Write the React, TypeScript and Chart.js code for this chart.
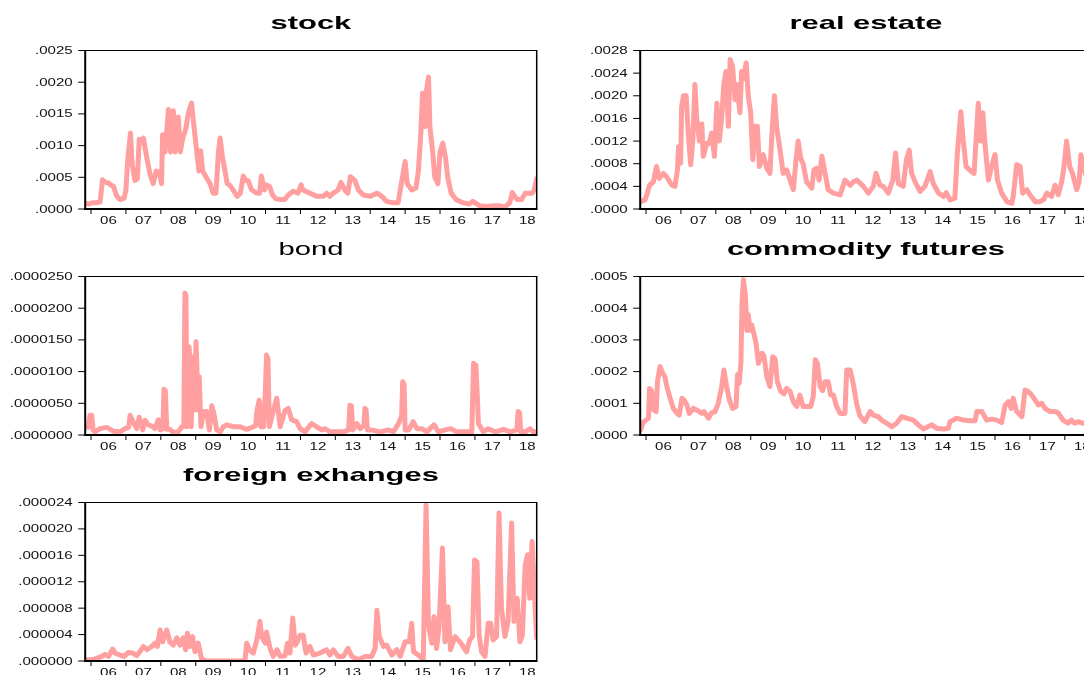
import React, { useEffect, useRef } from "react";
import { Chart, registerables } from "chart.js";

Chart.register(...registerables);

// ---------- shared axis data ----------
const yearTicks = [2006, 2007, 2008, 2009, 2010, 2011, 2012, 2013, 2014, 2015, 2016, 2017, 2018];
const yearLabels = ["06", "07", "08", "09", "10", "11", "12", "13", "14", "15", "16", "17", "18"];
const X_MIN = 2005.833;
const X_MAX = 2018.77;

// ---------- stock ----------
const stockYears = [
  2005.84, 2005.95, 2006.05, 2006.15, 2006.26, 2006.33, 2006.42, 2006.5, 2006.57, 2006.64,
  2006.74, 2006.83, 2006.95, 2007.0, 2007.05, 2007.13, 2007.18, 2007.26, 2007.33, 2007.38,
  2007.45, 2007.5, 2007.6, 2007.69, 2007.78, 2007.87, 2007.96, 2008.02, 2008.05, 2008.12,
  2008.15, 2008.22, 2008.28, 2008.36, 2008.41, 2008.47, 2008.5, 2008.56, 2008.62, 2008.68,
  2008.73, 2008.78, 2008.88, 2008.93, 2008.97, 2009.03, 2009.09, 2009.14, 2009.2, 2009.3,
  2009.41, 2009.5, 2009.58, 2009.65, 2009.7, 2009.77, 2009.84, 2009.9, 2009.97, 2010.07,
  2010.19, 2010.28, 2010.36, 2010.43, 2010.5, 2010.6, 2010.75, 2010.83, 2010.88, 2010.97,
  2011.02, 2011.12, 2011.2, 2011.3, 2011.44, 2011.55, 2011.65, 2011.79, 2011.93, 2012.02,
  2012.07, 2012.27, 2012.46, 2012.66, 2012.75, 2012.84, 2012.94, 2013.08, 2013.16, 2013.27,
  2013.36, 2013.43, 2013.56, 2013.66, 2013.8, 2014.0, 2014.2, 2014.33, 2014.47, 2014.62,
  2014.8, 2014.9, 2015.0, 2015.06, 2015.19, 2015.31, 2015.38, 2015.45, 2015.5, 2015.57,
  2015.62, 2015.67, 2015.71, 2015.79, 2015.85, 2015.94, 2016.0, 2016.08, 2016.16, 2016.22,
  2016.32, 2016.46, 2016.65, 2016.84, 2016.94, 2017.14, 2017.33, 2017.53, 2017.72, 2017.86,
  2018.0, 2018.07, 2018.2, 2018.34, 2018.44, 2018.64, 2018.7, 2018.77,
];
const stockValues = [
  0.00009, 0.00008, 0.0001, 0.0001, 0.00011, 0.00046, 0.00042, 0.00041, 0.00038, 0.00036,
  0.0002, 0.00015, 0.00017, 0.0003, 0.00077, 0.0012, 0.0007, 0.00045, 0.00048, 0.0011,
  0.00105, 0.00112, 0.0008, 0.00055, 0.0004, 0.0006, 0.00058, 0.0004, 0.00117, 0.0009,
  0.0011, 0.00157, 0.0009, 0.00155, 0.0009, 0.0013, 0.00145, 0.0009, 0.0011, 0.0012,
  0.0013, 0.0015, 0.00167, 0.0014, 0.0012, 0.0009, 0.0006, 0.00092, 0.0006, 0.0005,
  0.0004, 0.00025, 0.00025, 0.0009, 0.00112, 0.0008, 0.0006, 0.0004, 0.00038, 0.0003,
  0.0002, 0.00025, 0.00052, 0.00045, 0.00045, 0.0003, 0.00025, 0.00025, 0.00052, 0.0003,
  0.00038, 0.00035, 0.00022, 0.00016, 0.00015, 0.00015, 0.00022, 0.00028, 0.00025, 0.00038,
  0.0003, 0.00025, 0.0002, 0.0002, 0.00025, 0.0002, 0.00025, 0.0003, 0.00042, 0.0003,
  0.00025, 0.00051, 0.00045, 0.0003, 0.00022, 0.0002, 0.00025, 0.0002, 0.00012, 0.0001,
  0.0001, 0.00043, 0.00075, 0.0004, 0.0003, 0.00033, 0.0006, 0.0012, 0.00183, 0.0013,
  0.0019, 0.00208, 0.0013, 0.0009, 0.0005, 0.0004, 0.0009, 0.00104, 0.0008, 0.0005,
  0.00025, 0.00015, 0.0001, 0.00008, 0.00012, 0.00005, 0.00004, 0.00005, 0.00005, 0.00003,
  0.0001, 0.00026, 0.00015, 0.00015, 0.00025, 0.00025, 0.0003, 0.00048,
];
const stockTicks = [0, 0.0005, 0.001, 0.0015, 0.002, 0.0025];
const stockTickLabels = [".0000", ".0005", ".0010", ".0015", ".0020", ".0025"];

// ---------- real estate ----------
const realYears = [
  2005.84, 2005.97, 2006.04, 2006.1, 2006.21, 2006.3, 2006.38, 2006.5, 2006.59, 2006.74,
  2006.83, 2006.9, 2006.93, 2006.99, 2007.02, 2007.07, 2007.15, 2007.21, 2007.28, 2007.34,
  2007.4, 2007.45, 2007.53, 2007.6, 2007.64, 2007.74, 2007.81, 2007.88, 2007.96, 2008.03,
  2008.1, 2008.17, 2008.23, 2008.29, 2008.36, 2008.41, 2008.48, 2008.55, 2008.6, 2008.69,
  2008.74, 2008.79, 2008.87, 2008.93, 2009.0, 2009.06, 2009.12, 2009.19, 2009.25, 2009.36,
  2009.46, 2009.55, 2009.62, 2009.68, 2009.74, 2009.84, 2009.93, 2010.03, 2010.13, 2010.22,
  2010.3, 2010.36, 2010.43, 2010.5, 2010.6, 2010.75, 2010.81, 2010.89, 2010.96, 2011.04,
  2011.13, 2011.22, 2011.37, 2011.56, 2011.7, 2011.85, 2011.94, 2012.04, 2012.23, 2012.37,
  2012.51, 2012.59, 2012.7, 2012.8, 2012.94, 2013.07, 2013.15, 2013.23, 2013.37, 2013.46,
  2013.54, 2013.61, 2013.71, 2013.85, 2013.99, 2014.14, 2014.23, 2014.38, 2014.52, 2014.6,
  2014.71, 2014.85, 2014.92, 2015.02, 2015.09, 2015.17, 2015.33, 2015.4, 2015.48, 2015.52,
  2015.59, 2015.65, 2015.71, 2015.81, 2015.9, 2016.0, 2016.07, 2016.19, 2016.34, 2016.48,
  2016.52, 2016.62, 2016.72, 2016.79, 2016.91, 2017.0, 2017.15, 2017.29, 2017.4, 2017.48,
  2017.62, 2017.72, 2017.81, 2017.91, 2017.97, 2018.05, 2018.14, 2018.22, 2018.34, 2018.41,
  2018.46, 2018.52, 2018.6, 2018.7, 2018.77,
];
const realValues = [
  0.00013, 0.00016, 0.00028, 0.00042, 0.00048, 0.00075, 0.00054, 0.00063, 0.00057, 0.00042,
  0.0004, 0.00069, 0.0011, 0.00081, 0.0018, 0.002, 0.002, 0.00134, 0.00078, 0.0012,
  0.0022, 0.00163, 0.0012, 0.0015, 0.00093, 0.00116, 0.00116, 0.00134, 0.00093, 0.00187,
  0.0012, 0.00163, 0.0022, 0.00243, 0.00146, 0.00264, 0.00252, 0.00193, 0.0022, 0.0017,
  0.00243, 0.0023, 0.00258, 0.002, 0.0017, 0.00087, 0.00146, 0.00146, 0.00075, 0.00096,
  0.00072, 0.00063, 0.00146, 0.002, 0.00146, 0.00104, 0.00063, 0.00069, 0.00051, 0.00034,
  0.00087, 0.0012, 0.0009, 0.0008, 0.00048, 0.00037, 0.00069, 0.00072, 0.00051, 0.00093,
  0.00063, 0.00034, 0.00028, 0.00025, 0.00051, 0.00042, 0.00048, 0.00051, 0.0004, 0.00028,
  0.0004, 0.00063, 0.00042, 0.0004, 0.00028, 0.00051, 0.00099, 0.00045, 0.0004, 0.00087,
  0.00104, 0.00063, 0.00048, 0.00031, 0.0004, 0.00066, 0.00045, 0.00028, 0.00022, 0.00029,
  0.00016, 0.00019, 0.00099, 0.00172, 0.0012, 0.00075, 0.00066, 0.00063, 0.00146, 0.00187,
  0.0012, 0.0017, 0.00116, 0.00051, 0.00075, 0.00096, 0.00051, 0.00028, 0.00013, 0.0001,
  0.00022, 0.00078, 0.00075, 0.00028, 0.00034, 0.00025, 0.00013, 0.00013, 0.00017, 0.00028,
  0.00022, 0.00042, 0.00025, 0.00048, 0.00072, 0.0012, 0.00075, 0.00063, 0.00034, 0.00048,
  0.00096, 0.00075, 0.0006, 0.0005, 0.0007,
];
const realTicks = [0, 0.0004, 0.0008, 0.0012, 0.0016, 0.002, 0.0024, 0.0028];
const realTickLabels = [".0000", ".0004", ".0008", ".0012", ".0016", ".0020", ".0024", ".0028"];

// ---------- bond ----------
const bondYears = [
  2005.84, 2005.92, 2005.97, 2006.02, 2006.06, 2006.11, 2006.26, 2006.45, 2006.64, 2006.83,
  2006.97, 2007.08, 2007.12, 2007.21, 2007.31, 2007.38, 2007.48, 2007.55, 2007.64, 2007.74,
  2007.83, 2007.93, 2007.98, 2008.06, 2008.09, 2008.13, 2008.17, 2008.26, 2008.36, 2008.5,
  2008.6, 2008.66, 2008.69, 2008.72, 2008.75, 2008.81, 2008.84, 2008.87, 2008.91, 2008.96,
  2009.01, 2009.07, 2009.1, 2009.15, 2009.22, 2009.31, 2009.39, 2009.46, 2009.52, 2009.6,
  2009.7, 2009.79, 2009.89, 2010.08, 2010.27, 2010.46, 2010.65, 2010.72, 2010.75, 2010.82,
  2010.87, 2010.95, 2010.99, 2011.03, 2011.07, 2011.11, 2011.22, 2011.32, 2011.42, 2011.56,
  2011.65, 2011.75, 2011.89, 2011.99, 2012.13, 2012.32, 2012.46, 2012.61, 2012.7, 2012.85,
  2013.04, 2013.23, 2013.38, 2013.42, 2013.46, 2013.5, 2013.62, 2013.71, 2013.82, 2013.85,
  2013.88, 2013.92, 2014.04, 2014.28, 2014.52, 2014.66, 2014.81, 2014.9, 2014.93, 2014.97,
  2015.0, 2015.1, 2015.23, 2015.34, 2015.48, 2015.62, 2015.83, 2015.95, 2016.14, 2016.31,
  2016.48, 2016.72, 2016.91, 2016.96, 2017.03, 2017.1, 2017.24, 2017.38, 2017.58, 2017.82,
  2018.01, 2018.2, 2018.24, 2018.28, 2018.31, 2018.44, 2018.58, 2018.67, 2018.77,
];
const bondValues = [
  1.6e-6, 1.2e-6, 3.1e-6, 3.1e-6, 0.8e-6, 0.5e-6, 1.0e-6, 1.2e-6, 0.6e-6, 0.5e-6,
  1.0e-6, 1.2e-6, 3.1e-6, 2.0e-6, 1.0e-6, 2.8e-6, 0.8e-6, 2.3e-6, 1.6e-6, 1.4e-6,
  1.0e-6, 2.4e-6, 0.8e-6, 1.0e-6, 7.2e-6, 7.0e-6, 0.9e-6, 0.9e-6, 0.4e-6, 0.5e-6,
  1.3e-6, 1.3e-6, 22.4e-6, 22.0e-6, 1.3e-6, 13.9e-6, 10.0e-6, 1.3e-6, 12.3e-6, 3.9e-6,
  14.7e-6, 3.9e-6, 9.2e-6, 1.3e-6, 3.7e-6, 3.7e-6, 0.8e-6, 4.6e-6, 3.4e-6, 0.8e-6,
  0.5e-6, 1.3e-6, 1.6e-6, 1.3e-6, 1.3e-6, 0.9e-6, 1.3e-6, 1.5e-6, 3.7e-6, 5.5e-6,
  1.3e-6, 1.3e-6, 6.3e-6, 12.6e-6, 12.0e-6, 1.3e-6, 3.7e-6, 5.8e-6, 1.3e-6, 3.9e-6,
  4.2e-6, 2.4e-6, 2.1e-6, 1.0e-6, 0.5e-6, 1.8e-6, 1.3e-6, 0.8e-6, 1.0e-6, 0.5e-6,
  0.5e-6, 0.5e-6, 0.8e-6, 4.7e-6, 4.6e-6, 0.8e-6, 1.8e-6, 1.0e-6, 1.5e-6, 4.2e-6,
  4.0e-6, 0.8e-6, 0.8e-6, 0.5e-6, 0.8e-6, 0.5e-6, 1.8e-6, 3.0e-6, 8.4e-6, 8.0e-6,
  0.8e-6, 0.8e-6, 2.1e-6, 1.0e-6, 1.0e-6, 0.5e-6, 1.6e-6, 0.5e-6, 0.8e-6, 1.0e-6,
  0.5e-6, 0.5e-6, 0.5e-6, 11.3e-6, 11.0e-6, 1.8e-6, 0.5e-6, 1.0e-6, 0.5e-6, 0.9e-6,
  0.5e-6, 0.8e-6, 3.7e-6, 3.5e-6, 0.5e-6, 0.5e-6, 1.0e-6, 0.5e-6, 0.5e-6,
];
const bondTicks = [0, 0.000005, 0.00001, 0.000015, 0.00002, 0.000025];
const bondTickLabels = [".0000000", ".0000050", ".0000100", ".0000150", ".0000200", ".0000250"];

// ---------- commodity futures ----------
const commYears = [
  2005.84, 2005.92, 2006.0, 2006.07, 2006.1, 2006.16, 2006.21, 2006.29, 2006.33, 2006.4,
  2006.48, 2006.54, 2006.61, 2006.69, 2006.78, 2006.88, 2006.95, 2007.03, 2007.09, 2007.17,
  2007.24, 2007.36, 2007.45, 2007.6, 2007.66, 2007.79, 2007.88, 2007.98, 2008.07, 2008.17,
  2008.23, 2008.31, 2008.39, 2008.48, 2008.58, 2008.62, 2008.67, 2008.72, 2008.75, 2008.79,
  2008.85, 2008.89, 2008.93, 2008.98, 2009.03, 2009.09, 2009.15, 2009.22, 2009.32, 2009.38,
  2009.46, 2009.55, 2009.63, 2009.7, 2009.76, 2009.86, 2009.95, 2010.03, 2010.13, 2010.22,
  2010.32, 2010.41, 2010.5, 2010.6, 2010.72, 2010.79, 2010.85, 2010.91, 2010.99, 2011.06,
  2011.13, 2011.22, 2011.29, 2011.37, 2011.46, 2011.56, 2011.7, 2011.75, 2011.85, 2011.94,
  2012.04, 2012.13, 2012.27, 2012.42, 2012.51, 2012.65, 2012.75, 2012.9, 2013.04, 2013.18,
  2013.33, 2013.47, 2013.66, 2013.8, 2013.95, 2014.19, 2014.33, 2014.52, 2014.66, 2014.71,
  2014.9, 2015.09, 2015.28, 2015.43, 2015.48, 2015.62, 2015.76, 2015.9, 2016.05, 2016.19,
  2016.29, 2016.38, 2016.46, 2016.52, 2016.62, 2016.77, 2016.86, 2016.95, 2017.05, 2017.15,
  2017.24, 2017.34, 2017.43, 2017.58, 2017.72, 2017.81, 2017.95, 2018.09, 2018.19, 2018.28,
  2018.38, 2018.52, 2018.6, 2018.7, 2018.77,
];
const commValues = [
  0.000016, 0.00004, 0.000047, 0.000053, 0.000147, 0.00014, 0.00008, 0.000074, 0.00017, 0.000216,
  0.000195, 0.000184, 0.000147, 0.000116, 0.000084, 0.00007, 0.000063, 0.000116, 0.00011, 0.000095,
  0.000068, 0.000084, 0.000079, 0.000068, 0.000074, 0.000053, 0.00007, 0.000074, 0.0001, 0.000153,
  0.000205, 0.000153, 0.00011, 0.000084, 0.00009, 0.00019, 0.000163, 0.00023, 0.000416, 0.00049,
  0.000437, 0.00033, 0.00038, 0.00033, 0.000347, 0.00032, 0.00029, 0.000226, 0.000258, 0.00025,
  0.000184, 0.000153, 0.000247, 0.00024, 0.00017, 0.000137, 0.00013, 0.000147, 0.000137, 0.000105,
  0.00009, 0.000126, 0.00009, 0.00009, 0.00009, 0.00012, 0.000237, 0.000226, 0.000153, 0.00014,
  0.000168, 0.000168, 0.000126, 0.000126, 0.00009, 0.000068, 0.000068, 0.000205, 0.000205, 0.00016,
  0.000095, 0.00006, 0.000042, 0.000074, 0.000063, 0.000058, 0.000047, 0.000037, 0.000026, 0.000037,
  0.000058, 0.000053, 0.000047, 0.000032, 0.000019, 0.000032, 0.000021, 0.000019, 0.000021, 0.000042,
  0.000053, 0.000047, 0.000045, 0.000045, 0.000074, 0.000074, 0.000047, 0.00005, 0.000047, 0.000039,
  0.000095, 0.000105, 0.000084, 0.000116, 0.000074, 0.000058, 0.000142, 0.000137, 0.000126, 0.00011,
  0.000095, 0.0001, 0.000084, 0.000074, 0.000074, 0.00007, 0.000047, 0.000037, 0.000047, 0.000037,
  0.000042, 0.000037, 0.00004, 0.000035, 0.00004,
];
const commTicks = [0, 0.0001, 0.0002, 0.0003, 0.0004, 0.0005];
const commTickLabels = [".0000", ".0001", ".0002", ".0003", ".0004", ".0005"];

// ---------- foreign exchanges ----------
const fxYears = [
  2005.84, 2006.02, 2006.16, 2006.31, 2006.4, 2006.5, 2006.62, 2006.69, 2006.83, 2006.95,
  2007.07, 2007.19, 2007.31, 2007.4, 2007.5, 2007.6, 2007.74, 2007.83, 2007.9, 2007.98,
  2008.05, 2008.17, 2008.26, 2008.36, 2008.46, 2008.55, 2008.64, 2008.71, 2008.76, 2008.84,
  2008.91, 2008.98, 2009.07, 2009.17, 2009.31, 2010.08, 2010.41, 2010.46, 2010.54, 2010.65,
  2010.75, 2010.84, 2010.89, 2010.99, 2011.03, 2011.13, 2011.22, 2011.33, 2011.42, 2011.56,
  2011.63, 2011.7, 2011.78, 2011.85, 2011.91, 2011.99, 2012.08, 2012.16, 2012.27, 2012.37,
  2012.56, 2012.75, 2012.84, 2012.94, 2013.08, 2013.23, 2013.36, 2013.47, 2013.66, 2013.85,
  2014.04, 2014.14, 2014.19, 2014.26, 2014.38, 2014.47, 2014.62, 2014.76, 2014.86, 2015.0,
  2015.12, 2015.19, 2015.24, 2015.38, 2015.52, 2015.6, 2015.67, 2015.76, 2015.83, 2015.9,
  2015.97, 2016.07, 2016.14, 2016.23, 2016.3, 2016.43, 2016.57, 2016.66, 2016.76, 2016.85,
  2016.93, 2016.99, 2017.06, 2017.12, 2017.19, 2017.29, 2017.38, 2017.45, 2017.52, 2017.62,
  2017.69, 2017.76, 2017.86, 2017.95, 2018.05, 2018.12, 2018.21, 2018.29, 2018.36, 2018.44,
  2018.51, 2018.57, 2018.64, 2018.7, 2018.77,
];
const fxValues = [
  0.2e-6, 0.2e-6, 0.4e-6, 0.7e-6, 1.0e-6, 0.7e-6, 1.8e-6, 1.2e-6, 0.9e-6, 0.7e-6,
  1.3e-6, 1.2e-6, 0.8e-6, 1.4e-6, 2.2e-6, 1.7e-6, 2.2e-6, 2.7e-6, 2.2e-6, 4.7e-6,
  2.9e-6, 4.7e-6, 2.9e-6, 2.4e-6, 3.5e-6, 2.4e-6, 3.5e-6, 1.7e-6, 4.2e-6, 2.2e-6,
  3.7e-6, 1.4e-6, 2.7e-6, 0.3e-6, 0, 0, 0, 2.7e-6, 1.7e-6, 1.2e-6,
  3.2e-6, 6.0e-6, 3.7e-6, 2.7e-6, 4.4e-6, 1.9e-6, 0.7e-6, 1.7e-6, 0.7e-6, 0.8e-6,
  2.7e-6, 1.2e-6, 6.5e-6, 2.4e-6, 2.9e-6, 3.9e-6, 3.9e-6, 1.2e-6, 2.2e-6, 0.9e-6,
  1.2e-6, 1.7e-6, 0.9e-6, 1.7e-6, 0.7e-6, 0.7e-6, 1.9e-6, 0.7e-6, 0.2e-6, 0.7e-6,
  0.7e-6, 1.9e-6, 7.7e-6, 3.7e-6, 2.2e-6, 2.4e-6, 0.9e-6, 1.7e-6, 0.7e-6, 2.9e-6,
  2.9e-6, 5.7e-6, 1.4e-6, 0.9e-6, 0.2e-6, 23.6e-6, 5.5e-6, 2.7e-6, 6.7e-6, 1.9e-6,
  5.0e-6, 17.1e-6, 2.9e-6, 8.2e-6, 1.7e-6, 3.7e-6, 2.9e-6, 2.2e-6, 1.4e-6, 3.2e-6,
  3.7e-6, 15.3e-6, 15.0e-6, 3.9e-6, 1.4e-6, 0.7e-6, 5.7e-6, 5.7e-6, 3.2e-6, 3.7e-6,
  22.4e-6, 8.0e-6, 3.7e-6, 6.0e-6, 20.9e-6, 6.0e-6, 9.5e-6, 2.9e-6, 3.9e-6, 14.5e-6,
  16.1e-6, 9.5e-6, 18.1e-6, 10.5e-6, 3.5e-6,
];
const fxTicks = [0, 0.000004, 0.000008, 0.000012, 0.000016, 0.00002, 0.000024];
const fxTickLabels = [".000000", ".000004", ".000008", ".000012", ".000016", ".000020", ".000024"];

// ---------- styling ----------
const LINE_COLOR = "#FF9F9F";
const FONT_FAMILY = '"Liberation Sans", Arial, Helvetica, sans-serif';
const TICK_FONT = `11px ${FONT_FAMILY}`;
const TICK_SX = 1.37;
const TITLE_SIZE = 18.5;
const CANVAS_H = 226;
const AREA_TOP = 50.5;
const AREA_BOTTOM = 209;

type PanelDef = {
  title: string;
  bold: boolean;
  years: number[];
  values: number[];
  max: number;
  ticks: number[];
  tickLabels: string[];
  left: number;
  top: number;
  width: number;
  padLeft: number;
  padRight: number;
};

const LEFT_W = 560;
const RIGHT_W = 540;

const panels: PanelDef[] = [
  { title: "stock", bold: true, years: stockYears, values: stockValues, max: 0.0025, ticks: stockTicks, tickLabels: stockTickLabels, left: 0, top: 0, width: LEFT_W, padLeft: 85.2, padRight: 23.3 },
  { title: "real estate", bold: true, years: realYears, values: realValues, max: 0.0028, ticks: realTicks, tickLabels: realTickLabels, left: 560, top: 0, width: RIGHT_W, padLeft: 80.2, padRight: 8.3 },
  { title: "bond", bold: false, years: bondYears, values: bondValues, max: 0.000025, ticks: bondTicks, tickLabels: bondTickLabels, left: 0, top: 226, width: LEFT_W, padLeft: 85.2, padRight: 23.3 },
  { title: "commodity futures", bold: true, years: commYears, values: commValues, max: 0.0005, ticks: commTicks, tickLabels: commTickLabels, left: 560, top: 226, width: RIGHT_W, padLeft: 80.2, padRight: 8.3 },
  { title: "foreign exhanges", bold: true, years: fxYears, values: fxValues, max: 0.000024, ticks: fxTicks, tickLabels: fxTickLabels, left: 0, top: 452, width: LEFT_W, padLeft: 85.2, padRight: 23.3 },
];

function drawStretched(
  ctx: CanvasRenderingContext2D,
  text: string,
  x: number,
  y: number,
  align: CanvasTextAlign,
  baseline: CanvasTextBaseline,
  font: string,
  sx: number,
  color: string
) {
  ctx.save();
  ctx.translate(x, y);
  ctx.scale(sx, 1);
  ctx.font = font;
  ctx.textAlign = align;
  ctx.textBaseline = baseline;
  ctx.fillStyle = color;
  ctx.fillText(text, 0, 0);
  ctx.restore();
}

function makeFramePlugin(def: PanelDef) {
  return {
    id: "eviewsFrame",
    afterDraw(chart: any) {
      const ctx: CanvasRenderingContext2D = chart.ctx;
      const a = chart.chartArea;
      const xs = chart.scales.x;
      const ys = chart.scales.y;
      ctx.save();
      ctx.strokeStyle = "#000";
      const seg = (x1: number, y1: number, x2: number, y2: number, w: number) => {
        ctx.lineWidth = w;
        ctx.beginPath();
        ctx.moveTo(x1, y1);
        ctx.lineTo(x2, y2);
        ctx.stroke();
      };
      // frame
      seg(a.left, a.top, a.right, a.top, 1);
      seg(a.right, a.top - 0.5, a.right, a.bottom, 1.5);
      seg(a.left, a.top - 0.5, a.left, a.bottom + 1, 2);
      seg(a.left - 1, a.bottom, a.right + 0.75, a.bottom, 2);

      // y ticks + labels
      def.ticks.forEach((v, i) => {
        const y = ys.getPixelForValue(v);
        seg(a.left - 7, y, a.left, y, 1);
        drawStretched(ctx, def.tickLabels[i], a.left - 12.5, y + 0.5, "right", "middle", TICK_FONT, TICK_SX, "#111");
      });

      // x ticks + labels
      yearTicks.forEach((yr, i) => {
        const x = xs.getPixelForValue(yr);
        if (x >= a.left && x <= a.right) seg(x, a.bottom, x, a.bottom + 5, 1);
        const lx = xs.getPixelForValue(yr + 0.5);
        drawStretched(ctx, yearLabels[i], lx, a.bottom + 15, "center", "alphabetic", TICK_FONT, TICK_SX, "#111");
      });

      // title
      const titleFont = `${def.bold ? "bold " : ""}${TITLE_SIZE}px ${FONT_FAMILY}`;
      drawStretched(ctx, def.title, (a.left + a.right) / 2, 28.5, "center", "alphabetic", titleFont, def.bold ? 1.67 : 1.58, "#000");
      ctx.restore();
    },
  };
}

function Panel({ def }: { def: PanelDef }) {
  const ref = useRef<HTMLCanvasElement>(null);
  useEffect(() => {
    const canvas = ref.current;
    if (!canvas) return;
    const chart = new Chart(canvas, {
      type: "line",
      data: {
        datasets: [
          {
            data: def.years.map((x, i) => ({ x, y: def.values[i] })),
            borderColor: LINE_COLOR,
            backgroundColor: LINE_COLOR,
            borderWidth: 5,
            pointRadius: 0,
            pointHoverRadius: 0,
            tension: 0,
            fill: false,
            borderJoinStyle: "round",
            borderCapStyle: "round",
            clip: 0,
          } as any,
        ],
      },
      options: {
        animation: false,
        responsive: false,
        devicePixelRatio: 1,
        events: [],
        parsing: true,
        layout: {
          padding: {
            left: def.padLeft,
            right: def.padRight,
            top: AREA_TOP,
            bottom: CANVAS_H - AREA_BOTTOM,
          },
        },
        plugins: {
          legend: { display: false },
          tooltip: { enabled: false },
          title: { display: false },
        },
        scales: {
          x: { type: "linear", display: false, min: X_MIN, max: X_MAX },
          y: { type: "linear", display: false, min: 0, max: def.max },
        },
      } as any,
      plugins: [makeFramePlugin(def)],
    });
    return () => chart.destroy();
  }, [def]);
  return (
    <canvas
      ref={ref}
      width={def.width}
      height={CANVAS_H}
      style={{ position: "absolute", left: def.left, top: def.top, width: def.width, height: CANVAS_H }}
    />
  );
}

export default function App() {
  return (
    <div
      style={{
        position: "fixed",
        left: 0,
        top: 0,
        width: 1084,
        height: 675,
        overflow: "hidden",
        background: "#fff",
      }}
    >
      {panels.map((p) => (
        <Panel key={p.title} def={p} />
      ))}
    </div>
  );
}
